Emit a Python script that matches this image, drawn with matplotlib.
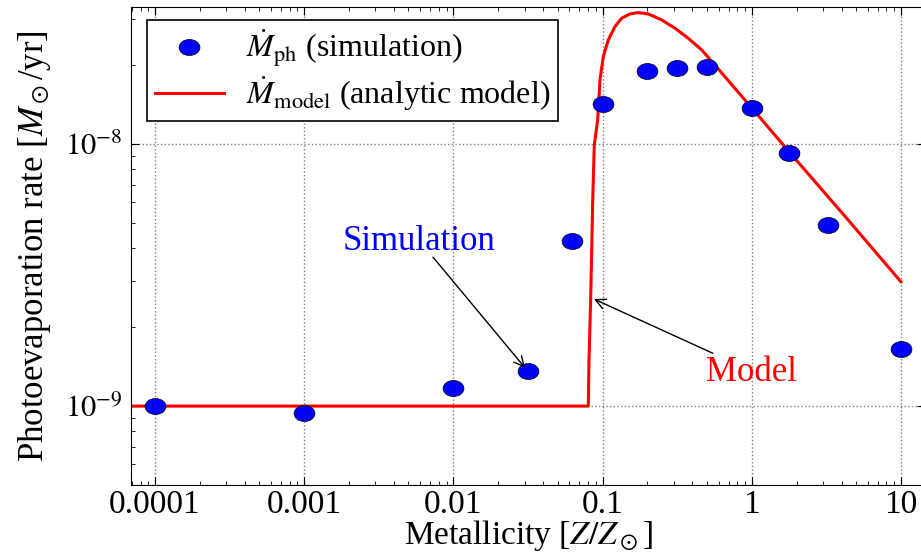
import numpy as np
import matplotlib
matplotlib.use("Agg")
import matplotlib.pyplot as plt
from matplotlib.path import Path

plt.rcParams["font.family"] = ["Liberation Serif", "DejaVu Serif"]
plt.rcParams["mathtext.fontset"] = "stix"

# simulation points
z_sim = [1e-4, 1e-3, 1e-2, 0.0316, 0.0624, 0.1, 0.2, 0.316, 0.5, 1.0, 1.78, 3.24, 10.0]
mdot_sim = [1.0e-9, 0.94e-9, 1.17e-9, 1.36e-9, 4.27e-9, 1.42e-8, 1.90e-8, 1.95e-8,
            1.97e-8, 1.37e-8, 9.2e-9, 4.9e-9, 1.65e-9]

# analytic model curve (traced by eye)
z_model = [6.9e-5, 0.0802, 0.0811, 0.0832, 0.0859, 0.0880, 0.0927, 0.0961, 0.1011,
           0.1092, 0.1211, 0.1343, 0.1526, 0.173, 0.2025, 0.2489, 0.3057, 0.3753,
           0.4615, 0.558, 1.003, 1.775, 4.214, 10.0]
mdot_model = [1.0e-9, 1.0e-9, 1.50e-9, 2.54e-9, 6.11e-9, 9.9e-9, 1.234e-8, 1.754e-8,
              2.154e-8, 2.493e-8, 2.804e-8, 3.018e-8, 3.134e-8, 3.17e-8, 3.134e-8,
              2.973e-8, 2.764e-8, 2.531e-8, 2.284e-8, 2.020e-8, 1.369e-8, 9.35e-9,
              5.30e-9, 2.98e-9]

xticks = [1e-4, 1e-3, 1e-2, 0.1, 1, 10]
xticklabels = ["0.0001", "0.001", "0.01", "0.1", "1", "10"]

# the original picture is stretched sideways, so the dots are ellipses
circ = Path.unit_circle()
ellipse = Path(circ.vertices * np.array([1.3, 1.0]), circ.codes)

fig = plt.figure(figsize=(9.21, 5.56), dpi=100)
ax = fig.add_axes([131 / 921, 1 - 485 / 556, (925 - 131) / 921, 478 / 556])

ax.plot(z_sim, mdot_sim, linestyle="none", marker=ellipse, markersize=15,
        markerfacecolor="blue", markeredgecolor="black", markeredgewidth=0.5,
        label=r"$\dot{M}_{\rm ph}$ (simulation)", zorder=3)
ax.plot(z_model, mdot_model, color="red", lw=2.2, solid_joinstyle="round",
        label=r"$\dot{M}_{\rm model}$ (analytic model)", zorder=2)

ax.set_xscale("log")
ax.set_yscale("log")
ax.set_xlim(6.9e-5, 14.5)
ax.set_ylim(5.0e-10, 3.33e-8)

ax.set_xticks(xticks)
ax.set_xticklabels(xticklabels)
ax.set_yticks([1e-9, 1e-8])
ax.set_yticklabels([r"$10^{-9}$", r"$10^{-8}$"])
ax.tick_params(which="both", direction="in", top=True, right=True)
ax.tick_params(axis="x", labelsize=24, pad=3)
ax.tick_params(axis="y", labelsize=22, pad=6)
ax.tick_params(which="major", length=6)
ax.tick_params(which="minor", length=3)
ax.grid(True, which="major", linestyle=":", color="gray", lw=1)

ax.set_xlabel(r"Metallicity [$Z/Z_\odot$]", fontsize=24, labelpad=-1)
ax.set_ylabel(r"Photoevaporation rate [$M_\odot$/yr]", fontsize=25, labelpad=9)

# arrows first, then the labels on top
ax.annotate("", xy=(0.0302, 1.40e-9), xytext=(0.0073, 3.70e-9),
            arrowprops=dict(arrowstyle="->", color="black", lw=1,
                            shrinkA=0, shrinkB=0, mutation_scale=18))
ax.annotate("", xy=(0.0876, 2.56e-9), xytext=(0.549, 1.59e-9),
            arrowprops=dict(arrowstyle="->", color="black", lw=1,
                            shrinkA=0, shrinkB=0, mutation_scale=18))
ax.text(0.00588, 4.25e-9, "Simulation", color="blue", fontsize=25,
        ha="center", va="center")
ax.text(1.003, 1.34e-9, "Model", color="red", fontsize=25,
        ha="center", va="center")

leg = ax.legend(loc="upper left", bbox_to_anchor=(0.02, 0.973), borderaxespad=0,
                fontsize=23, numpoints=1, fancybox=False, edgecolor="black",
                framealpha=1, handlelength=2.15, handletextpad=0.7,
                labelspacing=0.15, borderpad=0.25)
leg.get_frame().set_linewidth(1.2)

fig.savefig("out.png", dpi=100)
